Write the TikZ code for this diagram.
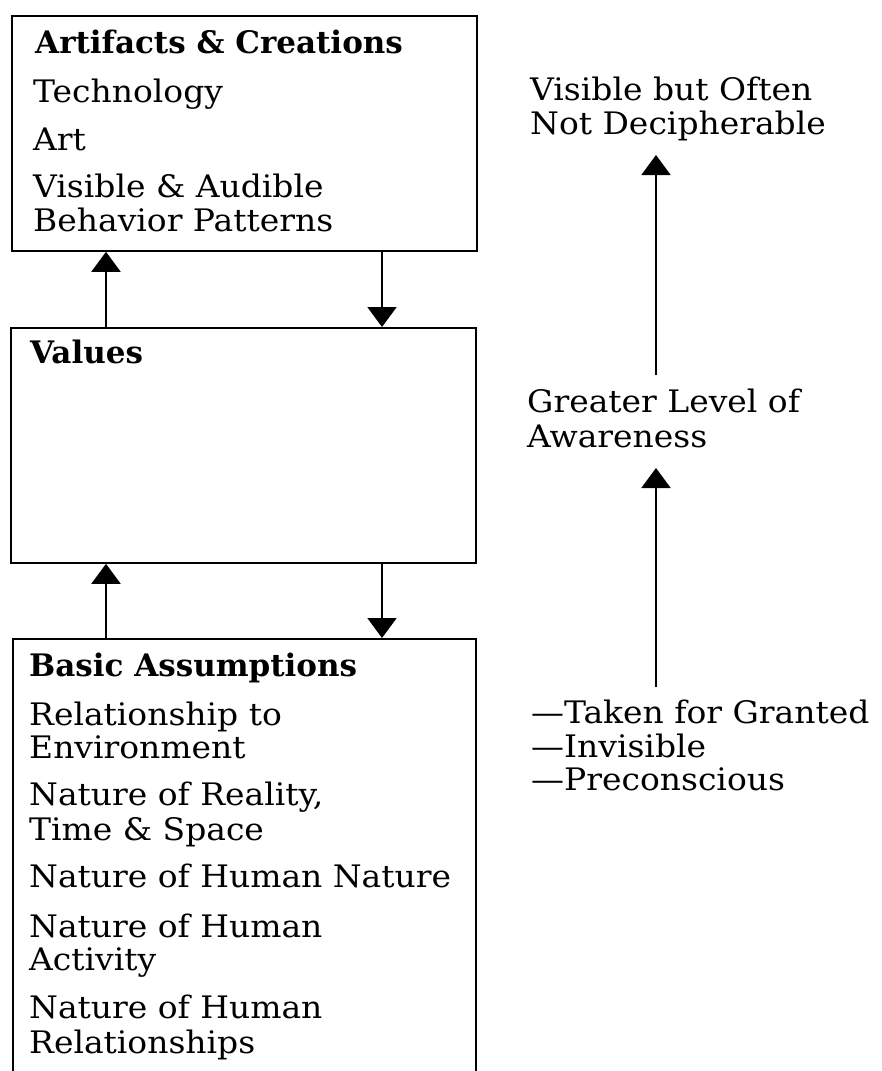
\documentclass[tikz,border=0pt]{standalone}
\usepackage{fontspec}
\setmainfont{DejaVu Serif}[FakeStretch=1.063]
\newfontfamily\headfont{DejaVu Serif}
\usetikzlibrary{arrows.meta}

\begin{document}
\begin{tikzpicture}[x=1pt,y=-1pt,
  box/.style={draw, line width=1.8pt, inner sep=0pt, anchor=north west},
  lbl/.style={anchor=base west, inner sep=0pt, font=\fontsize{31}{34}\selectfont},
  head/.style={lbl, font=\headfont\fontsize{31}{34}\selectfont\bfseries},
  flow/.style={line width=2pt, -{Triangle[width=29pt,length=20pt]}},
]
\useasboundingbox (0,0) rectangle (882,1071);
\clip (0,0) rectangle (882,1071);

% the three layers
\node[box, minimum width=465pt, minimum height=235pt] (art) at (11,15) {};
\node[box, minimum width=465pt, minimum height=235pt] (val) at (10,327) {};
\node[box, minimum width=463pt, minimum height=480pt] (bas) at (12,638) {};

% artifacts
\node[head] (artH)  at (35,53)  {Artifacts \& Creations};
\node[lbl]  (tech)  at (33,102) {Technology};
\node[lbl]  (artT)  at (33,150) {Art};
\node[lbl]  (vis1)  at (33,197) {Visible \& Audible};
\node[lbl]  (vis2)  at (33,231) {Behavior Patterns};

% values
\node[head] (valH)  at (30,363) {Values};

% basic assumptions
\node[head] (basH)  at (29,676)  {Basic Assumptions};
\node[lbl]  (rel1)  at (29,725)  {Relationship to};
\node[lbl]  (rel2)  at (29,758)  {Environment};
\node[lbl]  (real1) at (29,805)  {Nature of Reality,};
\node[lbl]  (real2) at (29,840)  {Time \& Space};
\node[lbl]  (hum)   at (29,887)  {Nature of Human Nature};
\node[lbl]  (act1)  at (29,937)  {Nature of Human};
\node[lbl]  (act2)  at (29,970)  {Activity};
\node[lbl]  (rsh1)  at (29,1018) {Nature of Human};
\node[lbl]  (rsh2)  at (29,1053) {Relationships};

% arrows between the layers
\coordinate (colL) at (106,0);
\coordinate (colR) at (382,0);
\draw[flow] (val.north -| colL) -- (art.south -| colL);
\draw[flow] (art.south -| colR) -- (val.north -| colR);
\draw[flow] (bas.north -| colL) -- (val.south -| colL);
\draw[flow] (val.south -| colR) -- (bas.north -| colR);

% awareness scale
\node[lbl] (top1) at (530,100) {Visible but Often};
\node[lbl] (top2) at (530,134) {Not Decipherable};
\node[lbl] (mid1) at (527,412) {Greater Level of};
\node[lbl] (mid2) at (527,447) {Awareness};
\node[lbl] (low1) at (531,723) {—Taken for Granted};
\node[lbl] (low2) at (531,757) {—Invisible};
\node[lbl] (low3) at (531,790) {—Preconscious};

\coordinate (up1s) at (656,375);
\coordinate (up1e) at (656,155);
\coordinate (up2s) at (656,687);
\coordinate (up2e) at (656,468);
\draw[flow] (up1s) -- (up1e);
\draw[flow] (up2s) -- (up2e);
\end{tikzpicture}
\end{document}
